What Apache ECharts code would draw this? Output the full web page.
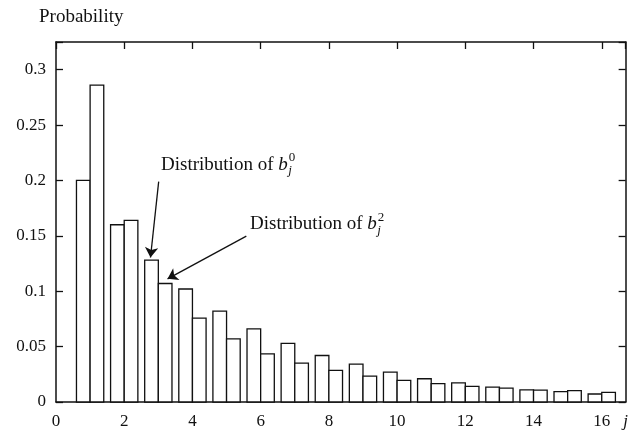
<!DOCTYPE html>
<html>
<head>
<meta charset="utf-8">
<script src="https://cdn.jsdelivr.net/npm/echarts@6/dist/echarts.min.js"></script>
<style>
html,body{margin:0;padding:0;background:#fff;}
#chart{width:631px;height:435px;}
</style>
</head>
<body>
<div id="chart"></div>
<script>
// ---- data ----
const categories = [1, 2, 3, 4, 5, 6, 7, 8, 9, 10, 11, 12, 13, 14, 15, 16];
const b0Values = [0.200, 0.160, 0.128, 0.102, 0.082, 0.066, 0.053, 0.042, 0.0342, 0.027, 0.021, 0.0172, 0.0135, 0.011, 0.0093, 0.0072];
const b2Values = [0.286, 0.164, 0.107, 0.0757, 0.057, 0.0435, 0.0351, 0.0285, 0.0234, 0.0195, 0.0166, 0.0141, 0.0126, 0.0108, 0.0102, 0.0087];
const xTickLabels = ['0', '2', '4', '6', '8', '10', '12', '14', '16'];
const yTickLabels = ['0', '0.05', '0.1', '0.15', '0.2', '0.25', '0.3'];
const yAxisTitle = 'Probability';
const xAxisTitle = 'j';
// annotations: text anchor [x, y], arrow [start, tip], superscript
const annotationLabels = ['0', '2'];
const annotationText = [[3.08, 0.2141], [5.69, 0.1605]];
const annotationArrows = [
  [[3.01, 0.199], [2.77, 0.1305]],
  [[5.58, 0.1497], [3.27, 0.1112]]
];

const FONT = '"Liberation Serif", "DejaVu Serif", serif';
const BAR_W = 0.4;
const INK = '#111';
const TXT = 19;

const chart = echarts.init(document.getElementById('chart'), null, {renderer: 'canvas'});

function barRender(side) {
  return function (params, api) {
    const j = api.value(0), v = api.value(1);
    const x0 = side === 0 ? j - BAR_W : j;
    const x1 = side === 0 ? j : j + BAR_W;
    const p0 = api.coord([x0, v]);
    const p1 = api.coord([x1, 0]);
    return {
      type: 'rect',
      shape: {x: p0[0], y: p0[1], width: p1[0] - p0[0], height: p1[1] - p0[1]},
      style: {fill: '#fff', stroke: INK, lineWidth: 1.3}
    };
  };
}

const xMax = 16.7, yMax = 0.325;
const labelStyle = {fontFamily: FONT, fontSize: 17, color: INK};
const lineSt = {color: INK, width: 1.5};
const tickSt = {show: true, inside: true, length: 7, lineStyle: {color: INK, width: 1.3}};

const option = {
  animation: false,
  backgroundColor: '#fff',
  title: {
    text: yAxisTitle, left: 34, top: 3,
    textStyle: {fontFamily: FONT, fontSize: TXT, fontWeight: 'normal', color: INK}
  },
  grid: {left: 56, right: 4, top: 42, bottom: 33, containLabel: false},
  xAxis: [
    {
      type: 'value', position: 'bottom', min: 0, max: xMax, interval: 2,
      axisLine: {show: true, onZero: false, lineStyle: lineSt},
      axisTick: {show: false},
      splitLine: {show: false},
      axisLabel: Object.assign({}, labelStyle, {
        margin: 11, showMaxLabel: true, showMinLabel: true,
        formatter: function (v) {
          if (v > 16.05) return '{j|' + xAxisTitle + '}';
          const i = Math.round(v / 2);
          return Math.abs(v - i * 2) < 1e-6 ? (xTickLabels[i] || '') : '';
        },
        rich: {j: {fontFamily: FONT, fontStyle: 'italic', fontSize: 17, color: INK}}
      })
    },
    {
      type: 'value', position: 'top', min: 0, max: xMax, interval: 2,
      axisLine: {show: true, onZero: false, lineStyle: lineSt},
      axisTick: tickSt,
      axisLabel: {show: false},
      splitLine: {show: false}
    }
  ],
  yAxis: [
    {
      type: 'value', position: 'left', min: 0, max: yMax, interval: 0.05,
      axisLine: {show: true, onZero: false, lineStyle: lineSt},
      axisTick: tickSt,
      splitLine: {show: false},
      axisLabel: Object.assign({}, labelStyle, {
        margin: 10, showMaxLabel: true,
        formatter: function (v) {
          const i = Math.round(v / 0.05);
          return Math.abs(v - i * 0.05) < 1e-6 ? (yTickLabels[i] || '') : '';
        }
      })
    },
    {
      type: 'value', position: 'right', min: 0, max: yMax, interval: 0.05,
      axisLine: {show: true, onZero: false, lineStyle: lineSt},
      axisTick: tickSt,
      axisLabel: {show: false},
      splitLine: {show: false}
    }
  ],
  series: [
    {
      type: 'custom', name: 'b0', xAxisIndex: 0, yAxisIndex: 0,
      renderItem: barRender(0),
      encode: {x: 0, y: 1},
      data: categories.map((c, i) => [c, b0Values[i]])
    },
    {
      type: 'custom', name: 'b2', xAxisIndex: 0, yAxisIndex: 0,
      renderItem: barRender(1),
      encode: {x: 0, y: 1},
      data: categories.map((c, i) => [c, b2Values[i]])
    },
    {
      type: 'lines', coordinateSystem: 'cartesian2d', xAxisIndex: 0, yAxisIndex: 0,
      symbol: ['none', 'arrow'], symbolSize: [6, 10],
      lineStyle: {color: INK, width: 1.3, opacity: 1},
      itemStyle: {color: INK},
      silent: true,
      data: annotationArrows.map(a => ({coords: a}))
    }
  ]
};
chart.setOption(option);

// annotation texts
const ctx = document.createElement('canvas').getContext('2d');
ctx.font = TXT + 'px ' + FONT;
const wMain = ctx.measureText('Distribution of ').width;
ctx.font = 'italic ' + TXT + 'px ' + FONT;
const wB = ctx.measureText('b').width;

const graphics = [];
annotationText.forEach((pos, k) => {
  const p = chart.convertToPixel({xAxisIndex: 0, yAxisIndex: 0}, pos);
  graphics.push({
    type: 'text', x: p[0], y: p[1], silent: true,
    style: {
      text: '{n|Distribution of }{i|b}',
      verticalAlign: 'middle', align: 'left',
      rich: {
        n: {fontFamily: FONT, fontSize: TXT, fill: INK, color: INK},
        i: {fontFamily: FONT, fontSize: TXT, fontStyle: 'italic', fill: INK, color: INK}
      }
    }
  });
  graphics.push({
    type: 'text', x: p[0] + wMain + wB + 1, y: p[1] - 7, silent: true,
    style: {text: annotationLabels[k], fontFamily: FONT, fontSize: 13, fill: INK, verticalAlign: 'middle', align: 'left'}
  });
  graphics.push({
    type: 'text', x: p[0] + wMain + wB + 0.5, y: p[1] + 6, silent: true,
    style: {text: 'j', fontFamily: FONT, fontSize: 13, fontStyle: 'italic', fill: INK, verticalAlign: 'middle', align: 'left'}
  });
});
chart.setOption({graphic: graphics});
</script>
</body>
</html>
